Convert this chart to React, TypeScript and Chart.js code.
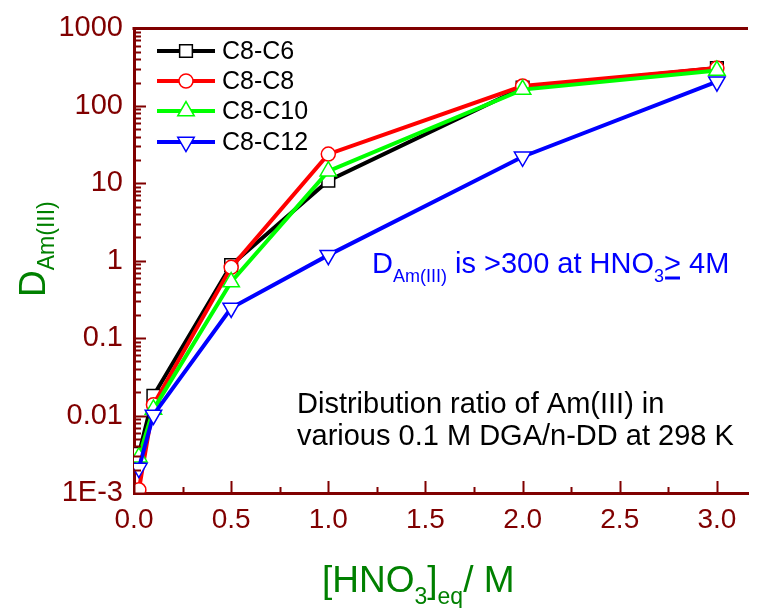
import React, { useEffect, useRef } from 'react';
import { Chart, registerables } from 'chart.js';
import { drawPoint } from 'chart.js/helpers';

Chart.register(...registerables);

// ---- data ----
const xValues = [0.025, 0.1, 0.5, 1.0, 2.0, 3.0];
const seriesNames = ['C8-C6', 'C8-C8', 'C8-C10', 'C8-C12'];
const c8c6 = [0.0032, 0.018, 0.88, 10.8, 172, 307];
const c8c8 = [0.0011, 0.0138, 0.82, 23.8, 180, 307];
const c8c10 = [0.0029, 0.012, 0.53, 14.3, 162, 285];
const c8c12 = [0.0021, 0.0102, 0.245, 1.18, 22, 205];

const xTickValues = [0, 0.5, 1.0, 1.5, 2.0, 2.5, 3.0];
const xTickLabels = ['0.0', '0.5', '1.0', '1.5', '2.0', '2.5', '3.0'];
const xMinorTickValues = [0.25, 0.75, 1.25, 1.75, 2.25, 2.75];
const yTickValues = [0.001, 0.01, 0.1, 1, 10, 100, 1000];
const yTickLabels = ['1E-3', '0.01', '0.1', '1', '10', '100', '1000'];

const xTitleParts = ['[HNO', '3', ']', 'eq', '/ M'];
const yTitleParts = ['D', 'Am(III)'];
const blueNoteParts = ['D', 'Am(III)', ' is >300 at HNO', '3', '>', ' 4M'];
const blackNoteLines = ['Distribution ratio of Am(III) in', 'various 0.1 M DGA/n-DD at 298 K'];

const AXIS = '#800000';
const TITLE = '#008000';
const FONT = '"Liberation Sans", Arial, Helvetica, sans-serif';

const decorPlugin = {
  id: 'decor',
  afterDraw(chart: any) {
    const ctx: CanvasRenderingContext2D = chart.ctx;
    const { left, right, top, bottom } = chart.chartArea;
    const xs = chart.scales.x;
    const ys = chart.scales.y;
    ctx.save();
    // top frame line
    ctx.strokeStyle = AXIS;
    ctx.lineWidth = 3;
    ctx.beginPath();
    ctx.moveTo(left - 1.5, top);
    ctx.lineTo(right, top);
    ctx.stroke();
    // inside ticks
    ctx.lineWidth = 2;
    ctx.beginPath();
    xTickValues.forEach((v) => {
      const px = Math.round(xs.getPixelForValue(v)) + 0.5;
      ctx.moveTo(px, bottom);
      ctx.lineTo(px, bottom - 12);
    });
    xMinorTickValues.forEach((v) => {
      const px = Math.round(xs.getPixelForValue(v)) + 0.5;
      ctx.moveTo(px, bottom);
      ctx.lineTo(px, bottom - 6);
    });
    yTickValues.forEach((v, i) => {
      const py = Math.round(ys.getPixelForValue(v)) + 0.5;
      ctx.moveTo(left, py);
      ctx.lineTo(left + 12, py);
      if (i < yTickValues.length - 1) {
        for (let m = 2; m <= 9; m++) {
          const p2 = Math.round(ys.getPixelForValue(v * m)) + 0.5;
          ctx.moveTo(left, p2);
          ctx.lineTo(left + 7, p2);
        }
      }
    });
    ctx.stroke();

    // legend
    const rows = [51, 81, 111, 142];
    chart.data.datasets.forEach((ds: any, i: number) => {
      const y = rows[i];
      ctx.strokeStyle = ds.borderColor;
      ctx.lineWidth = ds.borderWidth;
      ctx.beginPath();
      ctx.moveTo(157, y);
      ctx.lineTo(215, y);
      ctx.stroke();
      ctx.fillStyle = '#ffffff';
      ctx.strokeStyle = ds.borderColor;
      ctx.lineWidth = ds.pointBorderWidth;
      drawPoint(ctx, { pointStyle: ds.pointStyle, rotation: ds.pointRotation || 0, radius: ds.pointRadius, borderWidth: ds.pointBorderWidth }, 186, y);
      ctx.fillStyle = '#000000';
      ctx.font = `25px ${FONT}`;
      ctx.textBaseline = 'middle';
      ctx.textAlign = 'left';
      ctx.fillText(ds.label, 222, y + 1);
    });

    // x title
    ctx.fillStyle = TITLE;
    ctx.textBaseline = 'alphabetic';
    ctx.textAlign = 'left';
    let x = 322;
    const by = 592;
    const big = `37px ${FONT}`;
    const small = `23px ${FONT}`;
    ctx.font = big; ctx.fillText(xTitleParts[0], x, by); x += ctx.measureText(xTitleParts[0]).width;
    ctx.font = small; ctx.fillText(xTitleParts[1], x, by + 12); x += ctx.measureText(xTitleParts[1]).width;
    ctx.font = big; ctx.fillText(xTitleParts[2], x, by); x += ctx.measureText(xTitleParts[2]).width;
    ctx.font = small; ctx.fillText(xTitleParts[3], x, by + 12); x += ctx.measureText(xTitleParts[3]).width;
    ctx.font = big; ctx.fillText(xTitleParts[4], x, by);

    // y title (rotated)
    ctx.save();
    ctx.translate(45, 297);
    ctx.rotate(-Math.PI / 2);
    ctx.font = big;
    ctx.fillText(yTitleParts[0], 0, 0);
    const dw = ctx.measureText(yTitleParts[0]).width;
    ctx.font = small;
    ctx.fillText(yTitleParts[1], dw, 9);
    ctx.restore();

    // blue note
    ctx.fillStyle = '#0000ff';
    ctx.strokeStyle = '#0000ff';
    const nb = `29px ${FONT}`;
    const ns = `18px ${FONT}`;
    let bx = 372;
    const bby = 273;
    blueNoteParts.forEach((t, i) => {
      const sub = i === 1 || i === 3;
      ctx.font = sub ? ns : nb;
      ctx.fillText(t, bx, sub ? bby + 9 : bby);
      const w = ctx.measureText(t).width;
      if (i === 4) {
        ctx.lineWidth = 3;
        ctx.beginPath();
        ctx.moveTo(bx + 1, bby + 5);
        ctx.lineTo(bx + w - 1, bby + 5);
        ctx.stroke();
      }
      bx += w;
    });

    // black note
    ctx.fillStyle = '#000000';
    ctx.font = `29px ${FONT}`;
    ctx.fillText(blackNoteLines[0], 297, 413);
    ctx.fillText(blackNoteLines[1], 297, 445);
    ctx.restore();
  },
};

function makeDs(label: string, data: number[], color: string, style: string, radius: number, rotation: number, order: number) {
  return {
    label,
    data: data.map((v, i) => ({ x: xValues[i], y: v })),
    borderColor: color,
    backgroundColor: '#ffffff',
    borderWidth: 4,
    pointStyle: style,
    pointRadius: radius,
    pointRotation: rotation,
    pointBorderWidth: 1.5,
    pointBackgroundColor: '#ffffff',
    pointBorderColor: color,
    tension: 0,
    order,
  };
}

export default function App() {
  const ref = useRef<HTMLCanvasElement>(null);
  useEffect(() => {
    if (!ref.current) return;
    const chart = new Chart(ref.current, {
      type: 'line',
      data: {
        datasets: [
          makeDs(seriesNames[0], c8c6, '#000000', 'rect', 9, 0, 3),
          makeDs(seriesNames[1], c8c8, '#ff0000', 'circle', 7, 0, 2),
          makeDs(seriesNames[2], c8c10, '#00ff00', 'triangle', 9.5, 0, 1),
          makeDs(seriesNames[3], c8c12, '#0000ff', 'triangle', 9.5, 180, 0),
        ] as any,
      },
      options: {
        animation: false,
        responsive: false,
        devicePixelRatio: 1,
        layout: { padding: { left: 0, top: 25, right: 16, bottom: 0 } },
        plugins: { legend: { display: false }, tooltip: { enabled: false } },
        scales: {
          x: {
            type: 'linear',
            min: 0,
            max: 3.16,
            grid: { display: false, drawTicks: false },
            border: { display: true, color: AXIS, width: 3 },
            afterBuildTicks: (s: any) => { s.ticks = xTickValues.map((v) => ({ value: v })); },
            afterFit: (s: any) => { s.height = 115; },
            ticks: {
              color: AXIS,
              padding: 10,
              maxRotation: 0,
              autoSkip: false,
              font: { family: FONT, size: 28 },
              callback: (v: any) => { const i = xTickValues.indexOf(Number(v)); return i >= 0 ? xTickLabels[i] : ''; },
            },
          },
          y: {
            type: 'logarithmic',
            min: 0.001,
            max: 1000,
            grid: { display: false, drawTicks: false },
            border: { display: true, color: AXIS, width: 3 },
            afterBuildTicks: (s: any) => { s.ticks = yTickValues.map((v) => ({ value: v })); },
            afterFit: (s: any) => { s.width = 134; },
            ticks: {
              color: AXIS,
              padding: 11,
              autoSkip: false,
              font: { family: FONT, size: 29 },
              callback: (v: any) => { const i = yTickValues.findIndex((t) => Math.abs(t - Number(v)) / t < 1e-6); return i >= 0 ? yTickLabels[i] : ''; },
            },
          },
        },
      },
      plugins: [decorPlugin],
    });
    return () => chart.destroy();
  }, []);
  return (
    <div style={{ position: 'absolute', left: 0, top: 0, width: 764, height: 608, background: '#ffffff' }}>
      <canvas ref={ref} width={764} height={608} />
    </div>
  );
}
